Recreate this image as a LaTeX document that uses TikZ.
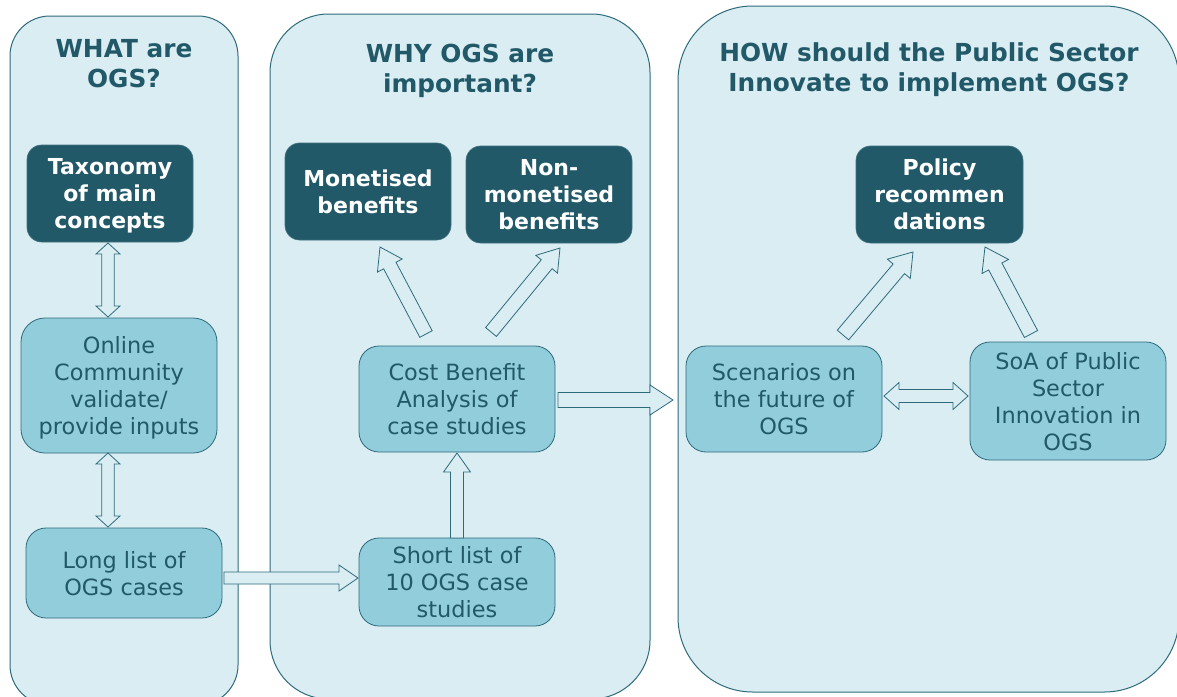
\documentclass[tikz,border=0pt]{standalone}
\usepackage{fontspec}
\setmainfont{DejaVu Sans}
\usetikzlibrary{calc}
\definecolor{panelfill}{HTML}{DAEDF3}
\definecolor{edgecol}{HTML}{2E6B7A}
\definecolor{darkbox}{HTML}{215968}
\definecolor{lightbox}{HTML}{92CDDC}
\definecolor{txtcol}{HTML}{215968}
\tikzset{
  panel/.style={draw=edgecol, line width=0.75pt, fill=panelfill},
  titletext/.style={text=txtcol, font=\bfseries\fontsize{18.6}{22.5}\selectfont, align=center, inner sep=0pt},
  darknode/.style={rectangle, rounded corners=11pt, fill=darkbox, draw=darkbox!85!white, line width=0.5pt, text=white, font=\bfseries\fontsize{16.5}{20.25}\selectfont, align=center, inner sep=0pt, text depth=-3pt},
  lightnode/.style={rectangle, rounded corners=15pt, fill=lightbox, draw=edgecol, line width=0.6pt, text=txtcol, font=\fontsize{16.8}{20.25}\selectfont, align=center, inner sep=0pt, text depth=-2pt},
  blockarrow/.style={draw=edgecol, line width=0.6pt, fill=panelfill, line join=miter}
}
% single block arrow: tail, tip, shaft half width, head half width, head length
\newcommand{\blkarrow}[5]{%
  \coordinate (tmpH) at ($(#2)!#5!(#1)$);
  \draw[blockarrow] ($(#1)!#3!90:(#2)$) -- ($(tmpH)!#3!90:(#2)$) -- ($(tmpH)!#4!90:(#2)$) -- (#2)
    -- ($(tmpH)!#4!-90:(#2)$) -- ($(tmpH)!#3!-90:(#2)$) -- ($(#1)!#3!-90:(#2)$) -- cycle;}
% double block arrow
\newcommand{\dblkarrow}[5]{%
  \coordinate (tmpH) at ($(#2)!#5!(#1)$);
  \coordinate (tmpG) at ($(#1)!#5!(#2)$);
  \draw[blockarrow] (#1) -- ($(tmpG)!#4!90:(#2)$) -- ($(tmpG)!#3!90:(#2)$) -- ($(tmpH)!#3!90:(#2)$)
    -- ($(tmpH)!#4!90:(#2)$) -- (#2) -- ($(tmpH)!#4!-90:(#2)$) -- ($(tmpH)!#3!-90:(#2)$)
    -- ($(tmpG)!#3!-90:(#2)$) -- ($(tmpG)!#4!-90:(#2)$) -- cycle;}
\begin{document}
\begin{tikzpicture}[x=0.75pt, y=-0.75pt]
\useasboundingbox (0,0) rectangle (1177,696);
\clip (0,0) rectangle (1177,696);
\fill[white] (0,0) rectangle (1177,696);
% panels
\draw[panel, rounded corners=30pt] (10,16) rectangle (238,705);
\draw[panel, rounded corners=44pt] (270,14) rectangle (650,699);
\draw[panel, rounded corners=56pt] (678,6) rectangle (1179,692);
% titles
\node[titletext] (t1) at (124,63.5) {WHAT are\\OGS?};
\node[titletext] (t2) at (460,71) {WHY OGS are\\important?};
\node[titletext] (t3) at (929,69.5) {HOW should the Public Sector\\Innovate to implement OGS?};
% panel 1
\node[darknode, minimum width=124.5pt, minimum height=72.75pt] (tax) at (110,193.5) {Taxonomy\\of main\\concepts};
\node[lightnode, rounded corners=18pt, minimum width=147pt, minimum height=101.25pt] (onl) at (119,385.5) {Online\\Community\\validate/\\provide inputs};
\node[lightnode, minimum width=147pt, minimum height=67.5pt] (lng) at (124,573) {Long list of\\OGS cases};
% panel 2
\node[darknode, minimum width=124.5pt, minimum height=72.75pt] (mon) at (368,191.5) {Monetised\\benefits};
\node[darknode, minimum width=124.5pt, minimum height=72.75pt] (nmon) at (549,194.5) {Non-\\monetised\\benefits};
\node[lightnode, minimum width=147pt, minimum height=79.5pt] (cba) at (457,399) {Cost Benefit\\Analysis of\\case studies};
\node[lightnode, minimum width=147pt, minimum height=66pt] (sht) at (457,582) {Short list of\\10 OGS case\\studies};
% panel 3
\node[darknode, minimum width=125.25pt, minimum height=72.75pt] (pol) at (939.5,194.5) {Policy\\recommen\\dations};
\node[lightnode, minimum width=147pt, minimum height=79.5pt] (scn) at (784,399) {Scenarios on\\the future of\\OGS};
\node[lightnode, minimum width=147pt, minimum height=88.5pt] (soa) at (1068,401) {SoA of Public\\Sector\\Innovation in\\OGS};
% arrow end points
\coordinate (v1a) at (108,243); \coordinate (v1b) at (108,317);
\coordinate (v2a) at (108,453); \coordinate (v2b) at (108,527);
\coordinate (lsA) at (224,578); \coordinate (lsB) at (358,578);
\coordinate (scA) at (457,538); \coordinate (scB) at (457,453);
\coordinate (cpA) at (558,400); \coordinate (cpB) at (673,400);
\coordinate (cmA) at (426,334); \coordinate (cmB) at (380,247);
\coordinate (cnA) at (491,332); \coordinate (cnB) at (560,248);
\coordinate (spA) at (843,335); \coordinate (spB) at (913,252);
\coordinate (opA) at (1031,334); \coordinate (opB) at (985,247);
\coordinate (ssA) at (884,396); \coordinate (ssB) at (968,396);
% arrows
\dblkarrow{v1a}{v1b}{4.7pt}{9pt}{8.25pt}
\dblkarrow{v2a}{v2b}{4.7pt}{9pt}{8.25pt}
\blkarrow{lsA}{lsB}{4.5pt}{9.75pt}{14.25pt}
\blkarrow{scA}{scB}{4.9pt}{10.1pt}{14.25pt}
\blkarrow{cpA}{cpB}{5.6pt}{11.25pt}{17.25pt}
\blkarrow{cmA}{cmB}{5.25pt}{10.5pt}{15.75pt}
\blkarrow{cnA}{cnB}{5.25pt}{10.5pt}{15.75pt}
\blkarrow{spA}{spB}{5.6pt}{11.25pt}{16.5pt}
\blkarrow{opA}{opB}{5.6pt}{11.25pt}{16.5pt}
\dblkarrow{ssA}{ssB}{4.9pt}{10.1pt}{11.25pt}
\end{tikzpicture}
\end{document}
